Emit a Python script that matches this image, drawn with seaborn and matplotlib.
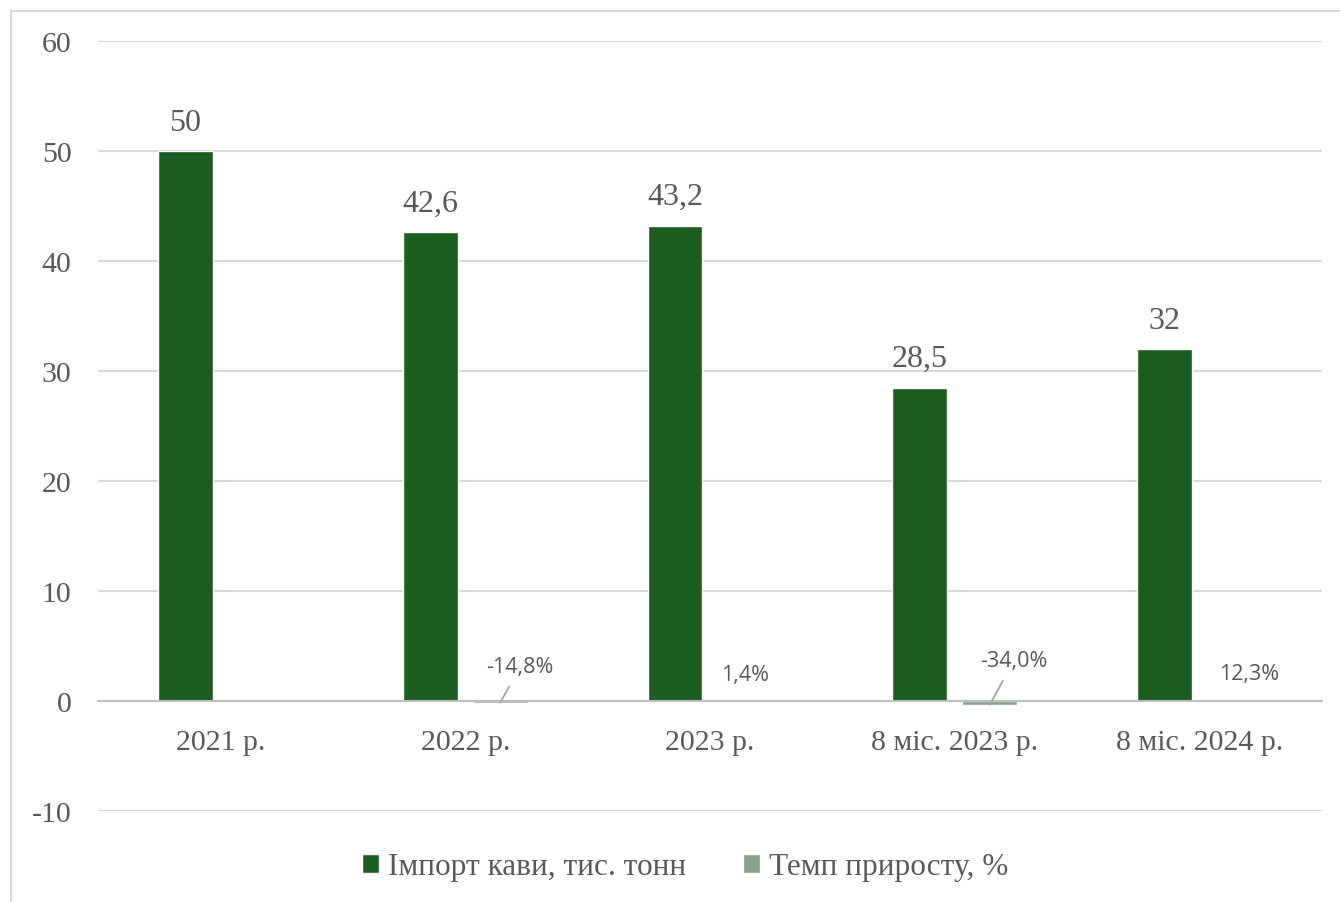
import numpy as np
import pandas as pd
import matplotlib.pyplot as plt
import matplotlib.lines as mlines
import seaborn as sns

periods = ['2021 р.', '2022 р.', '2023 р.', '8 міс. 2023 р.', '8 міс. 2024 р.']
imports = [50, 42.6, 43.2, 28.5, 32]
growth = [np.nan, -0.148, 0.014, -0.340, 0.123]
series = ['Імпорт кави, тис. тонн', 'Темп приросту, %']

# label offsets (px) for the growth labels and whether they get a leader line
pct_offsets = [(20, 36), (0, 26), (24, 44), (15, 26)]
pct_leader = [True, False, True, False]

sns.set_style('white')
plt.rcParams['font.family'] = ['Liberation Serif', 'DejaVu Serif']
plt.rcParams['axes.unicode_minus'] = False

grey = '#595959'
dark = '#1B5E20'
light = '#86A38B'

df = pd.DataFrame({
    'period': periods * 2,
    'value': imports + growth,
    'series': [series[0]] * len(periods) + [series[1]] * len(periods),
})

fig = plt.figure(figsize=(13.4, 9.03), dpi=100)
ax = fig.add_axes([98 / 1340, 1 - 812 / 903, (1322 - 98) / 1340, (812 - 42) / 903])

sns.barplot(data=df, x='period', y='value', hue='series', order=periods,
            hue_order=series, palette=[dark, light], width=0.572, gap=0.217,
            saturation=1, ax=ax)

ax.set_ylim(-10, 60)
ax.set_yticks(range(-10, 61, 10))
ax.set_xlim(-0.5, len(periods) - 0.5)
ax.set_xlabel('')
ax.set_ylabel('')
ax.yaxis.grid(True, color='#D9D9D9', lw=1.5)
ax.set_axisbelow(True)
for s in ['left', 'right', 'top']:
    ax.spines[s].set_visible(False)
ax.spines['bottom'].set_position(('data', 0))
ax.spines['bottom'].set_color('#BFBFBF')
ax.spines['bottom'].set_linewidth(1.5)
ax.tick_params(axis='both', length=0, labelsize=21.5, labelcolor=grey)
ax.tick_params(axis='x', pad=20)
ax.tick_params(axis='y', pad=19)

# value labels on import bars
for bar in ax.containers[0]:
    h = bar.get_height()
    if np.isnan(h):
        continue
    txt = f'{h:g}'.replace('.', ',')
    ax.annotate(txt, (bar.get_x() + bar.get_width() / 2, h),
                xytext=(0, 29), textcoords='offset pixels',
                ha='center', va='center', fontsize=23, color=grey)

# percent labels on growth bars
pct_bars = [b for b in ax.containers[1] if not np.isnan(b.get_height())]
for bar, (dx, dy), lead in zip(pct_bars, pct_offsets, pct_leader):
    h = bar.get_height()
    txt = f'{h * 100:.1f}%'.replace('.', ',')
    arrow = dict(arrowstyle='-', color='#A6A6A6', lw=1.3,
                 shrinkA=5, shrinkB=0) if lead else None
    ax.annotate(txt, (bar.get_x() + bar.get_width() / 2, h),
                xytext=(dx, dy), textcoords='offset pixels',
                ha='center', va='center', fontsize=15.5, color=grey,
                family=['Open Sans', 'DejaVu Sans'], arrowprops=arrow)

handles, labels = ax.get_legend_handles_labels()
ax.legend(handles, labels, loc='center', bbox_to_anchor=(685 / 1340, 1 - 868 / 903),
          bbox_transform=fig.transFigure, ncol=2, frameon=False,
          fontsize=22.5, labelcolor=grey, handlelength=0.55, handleheight=0.55,
          handletextpad=0.3, columnspacing=1.8)

# chart frame (left and top edges visible)
fig.add_artist(mlines.Line2D([10.5 / 1340, 10.5 / 1340], [0, 1 - 11.5 / 903],
                             transform=fig.transFigure, color='#D9D9D9', lw=1.5))
fig.add_artist(mlines.Line2D([10.5 / 1340, 1], [1 - 11.5 / 903, 1 - 11.5 / 903],
                             transform=fig.transFigure, color='#D9D9D9', lw=1.5))

fig.savefig('out.png', dpi=100)
plt.close(fig)
